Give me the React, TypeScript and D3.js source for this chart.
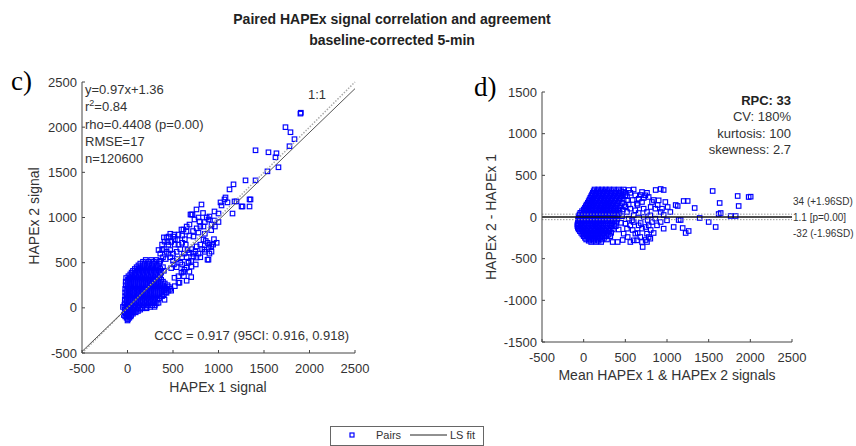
import React from "react";
import * as d3 from "d3";

// ---------- DATA ----------
const axisTicks = [-500, 0, 500, 1000, 1500, 2000, 2500];
const diffTicks = [-1500, -1000, -500, 0, 500, 1000, 1500];

const corrStats = ["y=0.97x+1.36", "r²=0.84", "rho=0.4408 (p=0.00)", "RMSE=17", "n=120600"];
const cccText = "CCC = 0.917 (95CI: 0.916, 0.918)";
const fitSlope = 0.97;
const fitIntercept = 1.36;

const baStats = ["RPC: 33", "CV: 180%", "kurtosis: 100", "skewness: 2.7"];
const baMean = 1.1;
const baUpper = 34;
const baLower = -32;
const baLabels = ["34 (+1.96SD)", "1.1 [p=0.00]", "-32 (-1.96SD)"];

// dense core of the correlation cloud: [HAPEx 2 value, HAPEx 1 values]
const corrCoreRows: [number, number[]][] = [
  [-140, [0]],
  [-125, [5]],
  [-110, [-10, 20]],
  [-95, [-25, 10, 35]],
  [-80, [-40, 0, 40]],
  [-65, [-20, 20, 60]],
  [-50, [-30, 10, 50, 90]],
  [-35, [-10, 30, 70, 115]],
  [-20, [-30, 10, 50, 95, 140]],
  [-5, [-10, 30, 75, 120, 165, 210]],
  [10, [-50, -15, 25, 70, 115, 160, 205, 250]],
  [30, [-35, 5, 45, 90, 135, 180, 225, 270, 300]],
  [50, [-30, 10, 55, 100, 145, 190, 235, 280, 320]],
  [70, [-10, 30, 75, 120, 165, 210, 255, 300]],
  [90, [-30, 10, 55, 100, 145, 190, 235, 280, 330]],
  [110, [-10, 35, 80, 125, 170, 215, 260, 305, 350]],
  [130, [-25, 15, 60, 105, 150, 195, 240, 285, 330, 380]],
  [150, [-5, 35, 80, 125, 170, 215, 260, 305, 355, 400]],
  [170, [-25, 15, 60, 105, 150, 195, 240, 285, 330, 380, 420]],
  [190, [-5, 35, 80, 125, 170, 215, 260, 305, 355, 400, 450]],
  [210, [-25, 15, 60, 105, 150, 195, 240, 285, 330, 375, 430, 470]],
  [230, [0, 40, 85, 130, 175, 220, 265, 310, 355, 405, 455]],
  [250, [-20, 20, 65, 110, 155, 200, 245, 290, 335, 380, 440]],
  [270, [0, 40, 85, 130, 175, 220, 265, 315, 360, 410]],
  [290, [-20, 20, 65, 110, 155, 200, 245, 290, 340, 390]],
  [310, [5, 45, 90, 135, 180, 225, 275, 320, 370]],
  [330, [-15, 25, 70, 115, 160, 205, 250, 300, 350]],
  [350, [10, 50, 95, 140, 185, 230, 280, 330]],
  [370, [30, 75, 120, 165, 210, 255, 305, 360]],
  [390, [45, 85, 130, 175, 220, 265, 315, 370]],
  [410, [60, 105, 150, 195, 240, 290, 340, 400]],
  [430, [80, 120, 165, 210, 255, 305, 360]],
  [450, [100, 140, 185, 230, 280, 330, 390]],
  [470, [120, 165, 215, 265, 320]],
  [490, [140, 190, 240, 290, 350]],
  [510, [170, 230, 290, 350]],
  [530, [200, 260, 320]],
];

// scattered pairs [HAPEx 1, HAPEx 2]
const corrScatter: [number, number][] = [
  [813, 1144], [758, 1089], [703, 1033], [736, 978], [791, 956], [890, 978], [956, 1067], [923, 922],
  [835, 900], [681, 922], [648, 844], [593, 867], [560, 811], [505, 789], [451, 789], [407, 733],
  [725, 789], [780, 833], [835, 756], [880, 720], [900, 700], [890, 667], [923, 622], [890, 533],
  [758, 556], [681, 611], [670, 511], [648, 444], [703, 456], [615, 400], [560, 278], [520, 240],
  [480, 190], [407, 89], [297, 11], [341, 56], [429, 167], [516, 333], [571, 278], [593, 389],
  [626, 422], [670, 500], [725, 567], [747, 622], [846, 644], [879, 533], [941, 700], [860, 740],
  [692, 1033], [615, 867], [516, 811], [429, 778], [380, 700], [341, 640], [360, 600], [400, 650],
  [450, 700], [480, 730], [520, 700], [550, 750], [600, 720], [640, 700], [580, 650], [620, 600],
  [540, 620], [500, 600], [470, 640], [430, 620], [714, 1033], [901, 1011],
  [360, 520], [390, 560], [420, 540], [450, 600], [470, 560], [500, 520], [540, 540], [510, 480],
  [480, 440], [540, 450], [580, 500], [600, 560], [650, 560], [700, 520], [720, 600], [760, 680],
  [800, 700], [820, 650], [850, 620], [780, 600], [700, 650], [660, 640], [630, 760], [680, 800],
  [720, 850], [760, 880], [800, 900], [850, 950], [870, 1000], [830, 1050], [780, 1000], [650, 900],
  [600, 800], [560, 700], [520, 760], [470, 820], [440, 730], [400, 780], [380, 640], [600, 480],
  [560, 350], [620, 350], [680, 400], [750, 480], [800, 560], [900, 600], [920, 680], [950, 760],
  [980, 720], [850, 820], [920, 860], [960, 900], [1000, 950], [700, 340], [650, 300],
  [1066, 1200], [1099, 1167], [1176, 1178], [1253, 1122], [1341, 1122], [1341, 1200], [1022, 1167],
  [1033, 1133], [1154, 1044], [1198, 1178], [1264, 1122], [1352, 1200], [1077, 1222], [1121, 1311],
  [1165, 1367], [1297, 1411], [1407, 1411], [1538, 1511], [1659, 1556], [1626, 1667], [1637, 1711],
  [1549, 1722], [1407, 1744], [1780, 1789], [1835, 1867], [1791, 1944], [1736, 2000], [1900, 2150],
  [1905, 2160], [1000, 1044], [956, 967],
];

// dense core of Bland-Altman cloud: [difference, mean values]
const baCoreRows: [number, number[]][] = [
  [330, [130, 175, 220, 265, 310, 360, 420, 480]],
  [310, [120, 155, 200, 245, 290, 335, 390, 450]],
  [290, [110, 150, 195, 240, 285, 330, 380, 430, 500]],
  [270, [100, 140, 185, 230, 275, 320, 370, 420, 470]],
  [250, [90, 130, 175, 220, 265, 310, 355, 400, 450, 520]],
  [230, [80, 120, 165, 210, 255, 300, 345, 395, 445]],
  [210, [70, 110, 155, 200, 245, 290, 335, 380, 430, 480]],
  [190, [60, 100, 145, 190, 235, 280, 325, 370, 420]],
  [170, [50, 90, 135, 180, 225, 270, 315, 360, 410, 460]],
  [150, [35, 75, 120, 165, 210, 255, 300, 350, 400]],
  [130, [25, 65, 110, 155, 200, 245, 290, 335, 385, 440, 500]],
  [110, [15, 55, 100, 145, 190, 235, 280, 325, 375, 430]],
  [90, [0, 40, 85, 130, 175, 220, 265, 310, 360, 410, 470]],
  [70, [-20, 20, 65, 110, 155, 200, 245, 290, 340, 390]],
  [50, [-40, 0, 45, 90, 135, 180, 225, 270, 320, 370, 430]],
  [30, [-50, -10, 35, 80, 125, 170, 215, 260, 310, 360, 410]],
  [10, [-60, -20, 25, 70, 115, 160, 205, 250, 300, 350, 400, 460]],
  [-10, [-60, -40, 0, 45, 90, 135, 180, 225, 275, 325, 375]],
  [-30, [-65, -25, 20, 65, 110, 155, 200, 245, 295, 345, 400]],
  [-50, [-70, -50, -5, 40, 85, 130, 175, 220, 270, 320, 370]],
  [-70, [-70, -30, 15, 60, 105, 150, 195, 240, 290, 340, 390, 450]],
  [-90, [-75, -55, -10, 35, 80, 125, 170, 215, 265, 315, 365]],
  [-110, [-75, -35, 10, 55, 100, 145, 190, 235, 285, 335, 385]],
  [-130, [-70, -40, 5, 50, 95, 140, 185, 230, 275, 325]],
  [-150, [-60, -20, 25, 70, 115, 160, 205, 250, 300, 350, 420]],
  [-170, [-45, -5, 40, 85, 130, 175, 220, 265, 310]],
  [-190, [-30, 10, 55, 100, 145, 190, 235, 280, 330]],
  [-210, [-15, 25, 70, 115, 160, 205, 250, 300]],
  [-230, [0, 40, 85, 130, 175, 220, 270, 320]],
  [-250, [15, 55, 100, 145, 195, 250]],
  [-270, [30, 75, 120, 170, 220, 280]],
  [-285, [60, 120, 180]],
  [-300, [90, 150, 210]],
];

// scattered Bland-Altman points [mean, difference]
const baScatter: [number, number][] = [
  [540, 324], [600, 330], [684, 264], [588, 204], [648, 144], [720, 228], [780, 240], [864, 324],
  [924, 336], [960, 324], [840, 204], [888, 144], [804, 120], [1008, 120], [1104, 144], [1128, 132],
  [924, 60], [960, 24], [720, 0], [660, 48], [768, -36], [684, -72], [744, -120], [804, -156],
  [840, -192], [780, -240], [744, -276], [708, -360], [648, -192], [588, -156], [528, -240],
  [468, -276], [408, -300], [348, -300], [924, -60], [1080, -120], [1140, -36], [560, 290],
  [620, 260], [760, 290], [700, 180], [560, 100], [600, -60], [680, -240], [760, -200],
  [480, 300], [500, 260], [520, 200], [540, 150], [500, 120], [520, 60], [540, -20], [500, -80],
  [520, -140], [480, -200], [560, -100], [580, -40], [600, 20], [620, 80], [640, 160], [660, 220],
  [700, 300], [740, 260], [720, 100], [760, 60], [800, 20], [820, -60], [780, -100], [700, -140],
  [660, -100], [620, -200], [600, -280], [560, -300], [640, -280], [700, -300], [760, -300],
  [800, -260], [820, 180], [860, 100], [900, 200], [880, -100], [860, -20], [940, 100], [980, 180],
  [1000, -40], [1040, 60], [960, -140],
  [1548, 312], [1848, 252], [1980, 240], [2004, 244], [1200, 192], [1248, 192], [1332, 108],
  [1632, 168], [1860, 132], [1644, 48], [1620, 36], [1764, 12], [1824, 12], [1392, -12],
  [1500, -60], [1164, -36], [1584, -120], [1188, -132], [1260, -168], [1224, -192],
];

// ---------- STYLE ----------
const FONT = "'Liberation Sans', Arial, Helvetica, sans-serif";
const TXT = "#333";
const AXIS = "#444";
const BLUE = "#0000ff";
const SQ = 4.5;
const SQW = 1.15;

const corrPoints: [number, number][] = [
  ...corrCoreRows.flatMap(([yv, xs]) => xs.map((xv) => [xv, yv] as [number, number])),
  ...corrScatter,
];
const baPoints: [number, number][] = [
  ...baCoreRows.flatMap(([yv, xs]) => xs.map((xv) => [xv, yv] as [number, number])),
  ...baScatter,
];

export default function App() {
  // left panel scales
  const lx = d3.scaleLinear().domain([-500, 2500]).range([82, 355]);
  const ly = d3.scaleLinear().domain([-500, 2500]).range([353, 82]);
  // right panel scales
  const rx = d3.scaleLinear().domain([-500, 2500]).range([542, 792]);
  const ry = d3.scaleLinear().domain([-1500, 1500]).range([342, 92]);

  const oneToOne = d3.line<number>().x((v) => lx(v)).y((v) => ly(v))([-500, 2500]) || "";
  const fitLine =
    d3
      .line<number>()
      .x((v) => lx(v))
      .y((v) => ly(fitSlope * v + fitIntercept))([-500, 2500]) || "";

  return (
    <svg
      width={856}
      height={446}
      style={{ position: "absolute", left: 0, top: 0, background: "#fff" }}
      fontFamily={FONT}
    >
      <rect x={0} y={0} width={856} height={446} fill="#fff" />
      {/* title */}
      <text x={392} y={24} textAnchor="middle" fontSize={14} fontWeight="bold" fill="#222">
        Paired HAPEx signal correlation and agreement
      </text>
      <text x={392} y={45} textAnchor="middle" fontSize={14} fontWeight="bold" fill="#222">
        baseline-corrected 5-min
      </text>

      {/* ---------- LEFT PANEL ---------- */}
      <text x={11} y={90} fontFamily="'Liberation Serif', 'Times New Roman', serif" fontSize={27} fill="#000">
        c)
      </text>
      <g>
        {corrPoints.map(([a, b], i) => (
          <rect
            key={"c" + i}
            x={lx(a) - SQ / 2}
            y={ly(b) - SQ / 2}
            width={SQ}
            height={SQ}
            fill="none"
            stroke={BLUE}
            strokeWidth={SQW}
          />
        ))}
      </g>
      <path d={oneToOne} stroke="#aaa" strokeWidth={1.5} strokeDasharray="1.5,1.5" fill="none" />
      <path d={fitLine} stroke="#555" strokeWidth={1} fill="none" />
      {/* axes */}
      <line x1={lx(-500)} x2={lx(2500)} y1={ly(-500)} y2={ly(-500)} stroke={AXIS} />
      <line x1={lx(-500)} x2={lx(-500)} y1={ly(-500)} y2={ly(2500)} stroke={AXIS} />
      {axisTicks.map((t) => (
        <g key={"lxt" + t}>
          <line x1={lx(t)} x2={lx(t)} y1={ly(-500)} y2={ly(-500) - 3} stroke={AXIS} />
          <text x={lx(t)} y={373} textAnchor="middle" fontSize={13} fill={TXT}>
            {t}
          </text>
        </g>
      ))}
      {axisTicks.map((t) => (
        <g key={"lyt" + t}>
          <line x1={lx(-500)} x2={lx(-500) + 3} y1={ly(t)} y2={ly(t)} stroke={AXIS} />
          <text x={77} y={ly(t)} dy="0.35em" textAnchor="end" fontSize={13} fill={TXT}>
            {t}
          </text>
        </g>
      ))}
      <text x={218} y={392} textAnchor="middle" fontSize={14} fill={TXT}>
        HAPEx 1 signal
      </text>
      <text
        transform="translate(39,216) rotate(-90)"
        textAnchor="middle"
        fontSize={14}
        fill={TXT}
      >
        HAPEx 2 signal
      </text>
      {corrStats.map((s, i) => (
        <text key={"cs" + i} x={85} y={94 + i * 17.3} fontSize={13} fill={TXT}>
          {i === 1 ? (
            <>
              r<tspan dy={-5} fontSize={9}>2</tspan>
              <tspan dy={5}>=0.84</tspan>
            </>
          ) : (
            s
          )}
        </text>
      ))}
      <text x={308} y={99} fontSize={13} fill={TXT}>
        1:1
      </text>
      <text x={349} y={340} textAnchor="end" fontSize={13} fill={TXT}>
        {cccText}
      </text>

      {/* ---------- RIGHT PANEL ---------- */}
      <text x={474} y={96} fontFamily="'Liberation Serif', 'Times New Roman', serif" fontSize={27} fill="#000">
        d)
      </text>
      <g>
        {baPoints.map(([a, b], i) => (
          <rect
            key={"b" + i}
            x={rx(a) - SQ / 2}
            y={ry(b) - SQ / 2}
            width={SQ}
            height={SQ}
            fill="none"
            stroke={BLUE}
            strokeWidth={SQW}
          />
        ))}
      </g>
      <line x1={rx(-500)} x2={rx(2500)} y1={ry(baUpper)} y2={ry(baUpper)} stroke="#999" strokeDasharray="1.5,1.5" />
      <line x1={rx(-500)} x2={rx(2500)} y1={ry(baLower)} y2={ry(baLower)} stroke="#999" strokeDasharray="1.5,1.5" />
      <line x1={rx(-500)} x2={rx(2500)} y1={ry(baMean)} y2={ry(baMean)} stroke="#111" strokeWidth={1.5} />
      {/* axes */}
      <line x1={rx(-500)} x2={rx(2500)} y1={ry(-1500)} y2={ry(-1500)} stroke={AXIS} />
      <line x1={rx(-500)} x2={rx(-500)} y1={ry(-1500)} y2={ry(1500)} stroke={AXIS} />
      {axisTicks.map((t) => (
        <g key={"rxt" + t}>
          <line x1={rx(t)} x2={rx(t)} y1={ry(-1500)} y2={ry(-1500) - 3} stroke={AXIS} />
          <text x={rx(t)} y={362} textAnchor="middle" fontSize={13} fill={TXT}>
            {t}
          </text>
        </g>
      ))}
      {diffTicks.map((t) => (
        <g key={"ryt" + t}>
          <line x1={rx(-500)} x2={rx(-500) + 3} y1={ry(t)} y2={ry(t)} stroke={AXIS} />
          <text x={537} y={ry(t)} dy="0.35em" textAnchor="end" fontSize={13} fill={TXT}>
            {t}
          </text>
        </g>
      ))}
      <text x={667} y={380} textAnchor="middle" fontSize={14} fill={TXT}>
        Mean HAPEx 1 &amp; HAPEx 2 signals
      </text>
      <text
        transform="translate(496,217) rotate(-90)"
        textAnchor="middle"
        fontSize={14}
        fill={TXT}
      >
        HAPEx 2 - HAPEx 1
      </text>
      {baStats.map((s, i) => (
        <text
          key={"bs" + i}
          x={791}
          y={105 + i * 16.3}
          textAnchor="end"
          fontSize={13}
          fontWeight={i === 0 ? "bold" : "normal"}
          fill={i === 0 ? "#222" : TXT}
        >
          {s}
        </text>
      ))}
      {baLabels.map((s, i) => (
        <text key={"bl" + i} x={793} y={205 + i * 16} fontSize={10} fill={TXT}>
          {s}
        </text>
      ))}

      {/* ---------- LEGEND ---------- */}
      <rect x={330.5} y={426.5} width={153} height={19} fill="#fff" stroke="#666" />
      <rect x={350} y={433} width={4} height={4} fill="none" stroke={BLUE} strokeWidth={1.2} />
      <text x={376} y={439} fontSize={11} fill={TXT}>
        Pairs
      </text>
      <line x1={410} x2={447} y1={435} y2={435} stroke="#222" />
      <text x={450} y={439} fontSize={11} fill={TXT}>
        LS fit
      </text>
    </svg>
  );
}
